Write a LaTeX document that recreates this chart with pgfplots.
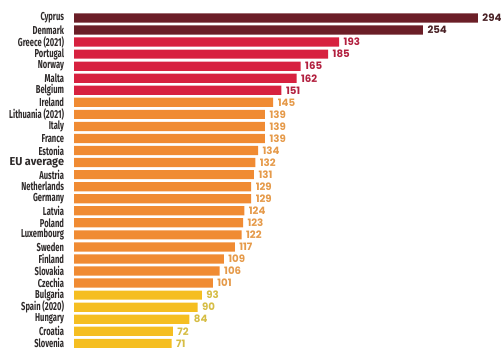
\documentclass[border=0pt]{standalone}
\usepackage{fontspec}
\usepackage{pgfplots}
\pgfplotsset{compat=1.18}
\setmainfont{Fira Sans}
\newfontfamily\condfont[FakeStretch=0.66]{Fira Sans}
\newfontfamily\numfont{Poppins}
\definecolor{cdark}{HTML}{6B1E27}
\definecolor{cred}{HTML}{D7213F}
\definecolor{corange}{HTML}{F08B33}
\definecolor{cyellow}{HTML}{F5BE21}
\definecolor{ldark}{HTML}{4A2226}
\definecolor{lred}{HTML}{B2203F}
\definecolor{lorange}{HTML}{E59A4A}
\definecolor{lyellow}{HTML}{D6BD45}
\definecolor{ltext}{HTML}{2E2A2A}
\begin{document}
\begin{tikzpicture}
\path[use as bounding box] (0,0) rectangle (503pt,352pt);
\begin{axis}[
  at={(74pt,334pt)}, anchor=origin,
  x=1.374pt, y=12.05pt, y dir=reverse,
  xmin=0, xmax=300, ymin=-1, ymax=28,
  axis line style={draw=none},
  tick style={draw=none},
  xtick=\empty,
  xbar, bar shift=0pt, bar width=9.2pt,
  ytick={0,...,27},
  yticklabels={Cyprus,Denmark,Greece (2021),Portugal,Norway,Malta,Belgium,Ireland,Lithuania (2021),Italy,France,Estonia,{\fontspec{Fira Sans}[FakeStretch=0.95]\bfseries EU average},Austria,Netherlands,Germany,Latvia,Poland,Luxembourg,Sweden,Finland,Slovakia,Czechia,Bulgaria,Spain (2020),Hungary,Croatia,Slovenia},
  yticklabel style={font=\condfont\bfseries\fontsize{11.5}{11.5}\selectfont\color{ltext}, anchor=east, inner sep=0pt, xshift=-5.5pt},
  clip=false,
  /pgf/number format/assume math mode=true,
  nodes near coords,
  nodes near coords style={font=\numfont\bfseries\fontsize{10.2}{10.2}\selectfont, anchor=west, xshift=1pt},
]
\addplot[fill=cdark, draw=none, nodes near coords style={text=ldark}] coordinates {(294,0) (254,1)};
\addplot[fill=cred, draw=none, nodes near coords style={text=lred}] coordinates {(193,2) (185,3) (165,4) (162,5) (151,6)};
\addplot[fill=corange, draw=none, nodes near coords style={text=lorange}] coordinates {(145,7) (139,8) (139,9) (139,10) (134,11) (132,12) (131,13) (129,14) (129,15) (124,16) (123,17) (122,18) (117,19) (109,20) (106,21) (101,22)};
\addplot[fill=cyellow, draw=none, nodes near coords style={text=lyellow}] coordinates {(93,23) (90,24) (84,25) (72,26) (71,27)};
\end{axis}
\end{tikzpicture}
\end{document}
